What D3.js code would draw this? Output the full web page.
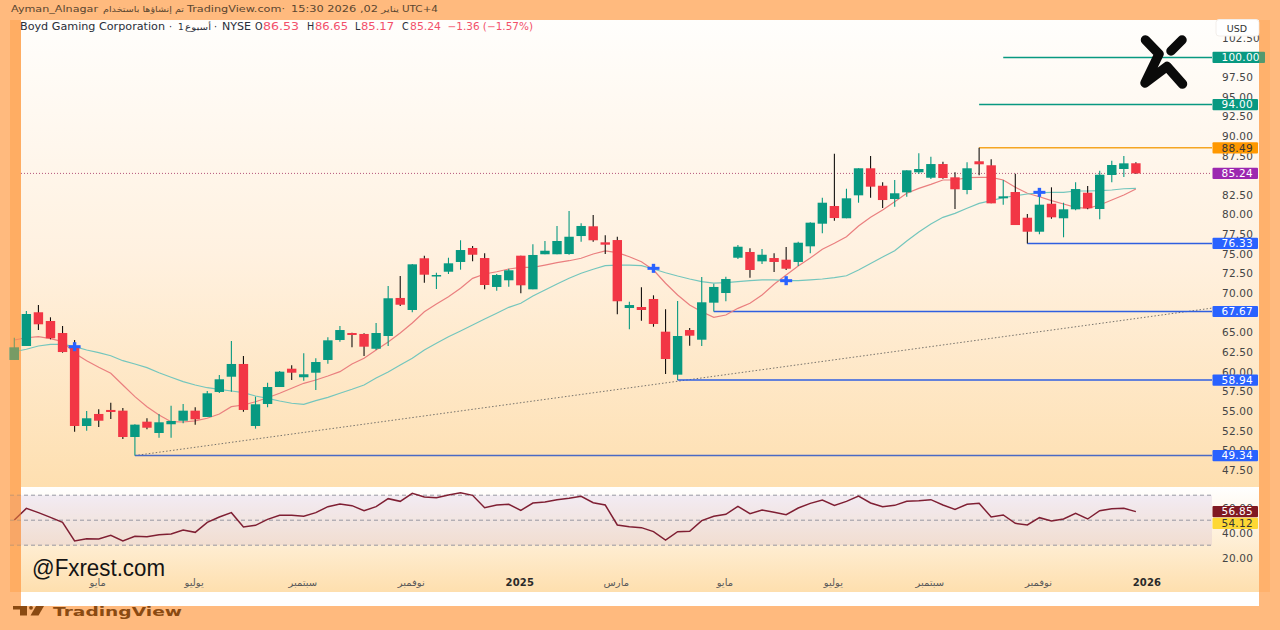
<!DOCTYPE html>
<html>
<head>
<meta charset="utf-8">
<script src="https://cdn.jsdelivr.net/npm/d3@7"></script>
<style>
html, body { margin: 0; padding: 0; background: #ffba7e; }
svg { display: block; }
text { font-family: "DejaVu Sans", sans-serif; }
</style>
</head>
<body>
<div id="chart"></div>
<script>
// weekly candles, oldest first
var open = [61.50,63.28,67.57,66.46,64.93,63.19,53.10,54.63,55.14,55.05,51.70,53.65,52.21,53.32,53.77,55.05,54.25,57.43,59.37,60.99,53.10,55.90,58.06,60.39,59.30,59.88,61.50,64.04,64.93,64.81,62.93,64.55,69.39,67.86,74.44,72.22,72.73,73.97,75.75,74.47,70.79,71.64,74.77,70.49,74.95,74.95,74.98,77.27,78.51,76.47,76.76,68.11,68.24,69.26,65.10,59.63,65.31,64.08,68.79,70.02,74.51,75.24,74.05,74.47,74.26,73.97,75.96,78.84,81.09,79.53,82.45,85.89,83.67,81.98,82.83,85.38,84.69,86.43,84.74,83.13,86.78,86.27,82.07,82.87,79.60,77.82,81.38,79.53,80.67,82.78,80.71,85.04,85.80,86.53];
var high = [64.33,67.73,68.50,66.93,65.82,64.04,55.01,55.23,56.06,55.39,53.32,54.08,54.63,55.68,55.90,55.48,57.55,59.59,63.91,62.01,56.83,58.61,60.10,60.82,62.35,61.71,64.39,65.82,64.97,64.89,66.20,70.91,72.18,73.71,74.77,72.60,74.51,76.73,76.00,75.07,72.44,73.11,74.77,76.22,76.64,78.55,80.45,78.89,79.95,77.36,77.18,68.91,70.75,69.73,67.95,69.00,65.57,72.06,71.21,72.10,76.13,75.71,75.62,75.07,75.87,76.55,79.02,82.15,87.74,83.29,85.89,87.45,84.11,84.40,85.63,87.80,87.36,86.73,85.38,86.65,88.49,87.03,84.40,85.20,80.07,82.78,83.47,81.51,84.11,83.64,85.58,86.85,87.45,86.65];
var low = [61.50,63.28,65.31,64.13,62.43,52.38,52.50,52.97,53.99,51.45,49.34,52.68,51.61,51.61,53.44,53.27,54.25,57.30,57.46,54.92,52.76,55.48,58.06,58.95,58.86,57.68,61.03,63.83,63.11,62.01,62.77,63.28,68.37,67.57,71.33,70.53,72.44,72.99,74.05,70.49,70.31,70.82,69.98,70.49,74.95,74.95,74.89,76.55,76.55,74.98,67.31,65.40,66.50,65.73,59.72,58.94,63.32,63.28,67.67,68.97,74.35,71.97,73.71,72.69,72.95,73.46,75.07,77.62,79.22,79.53,81.51,82.15,80.84,81.00,82.27,85.16,84.53,84.56,80.71,82.58,85.00,81.43,81.26,78.67,76.33,77.49,79.47,77.11,80.54,80.67,79.40,84.11,84.78,85.17];
var close = [63.11,67.35,66.04,64.26,62.51,53.10,54.08,53.77,54.88,51.70,53.27,52.88,53.57,53.74,55.05,53.95,57.26,59.04,60.99,55.14,55.86,58.06,60.01,59.88,59.68,61.24,64.00,65.31,64.68,63.19,64.93,69.35,68.53,73.67,72.35,72.31,73.80,75.49,74.89,71.04,72.31,72.91,71.00,74.86,75.40,76.64,77.18,78.55,76.73,76.17,68.97,68.49,67.86,66.08,61.62,64.55,64.59,68.84,70.79,71.80,75.91,72.95,74.89,73.97,73.11,76.42,78.97,81.51,79.56,82.07,85.89,83.55,81.85,82.71,85.63,85.80,86.43,84.65,83.22,85.89,86.40,81.43,82.32,78.67,77.82,81.26,79.65,80.67,83.25,80.80,85.07,86.31,86.52,85.24];

// the two moving averages on the price pane
var fastMa = [64.04,64.33,64.46,64.21,63.83,62.35,61.41,60.57,59.80,58.32,56.83,55.56,54.50,53.65,53.61,53.74,54.08,54.63,55.56,55.77,56.19,56.70,57.26,57.90,58.53,58.95,59.46,60.01,60.99,61.71,62.77,63.79,64.93,66.20,67.64,68.62,69.55,70.62,71.89,72.44,72.73,73.08,73.29,73.29,73.58,73.88,74.13,74.44,74.98,75.37,75.15,74.64,74.00,72.95,71.26,69.77,68.49,67.64,66.93,67.22,68.07,68.71,69.77,71.13,72.31,73.46,74.47,75.58,76.35,77.18,78.55,79.65,80.58,81.64,82.71,83.34,83.85,84.40,84.40,84.69,84.74,84.74,84.40,83.47,82.71,82.27,81.77,81.35,80.92,80.80,81.22,81.85,82.49,83.25];
var slowMa = [62.55,62.86,63.28,63.49,63.49,63.19,62.77,62.43,62.04,61.41,60.99,60.52,59.88,59.30,58.74,58.32,57.97,57.77,57.55,57.34,56.92,56.62,56.28,55.99,55.86,56.32,56.75,57.26,57.77,58.32,59.21,59.97,60.86,61.71,62.77,63.62,64.46,65.19,65.95,66.71,67.44,68.20,68.71,69.64,70.40,71.17,71.89,72.53,73.04,73.50,73.58,73.58,73.50,73.08,72.60,72.18,71.80,71.46,71.29,71.33,71.46,71.59,71.68,71.68,71.59,71.59,71.68,71.80,71.97,72.22,72.95,73.78,74.60,75.40,76.64,77.78,78.80,79.65,80.16,80.80,81.43,81.77,82.15,82.40,82.62,82.78,82.83,82.83,83.00,83.00,83.04,83.13,83.29,83.34];

// RSI pane
var rsi = [50.16,59.49,56.03,52.29,48.29,33.36,35.23,34.96,37.89,33.36,37.09,36.83,38.43,38.96,42.16,40.29,48.29,52.56,56.03,44.56,45.89,50.69,53.89,53.89,53.09,56.03,60.83,62.96,61.63,57.63,60.83,67.23,65.09,71.49,68.56,68.03,70.16,72.03,69.89,60.03,62.16,62.69,57.89,63.76,64.56,66.43,67.49,69.09,64.03,62.16,46.16,44.83,44.03,40.83,34.16,40.83,41.09,49.63,53.09,54.69,61.09,55.23,58.16,56.29,54.43,59.76,63.49,66.16,61.89,65.09,69.36,63.76,60.83,61.89,65.09,65.63,66.43,62.16,58.69,62.69,63.49,52.56,54.16,47.49,46.16,52.03,49.36,50.96,55.49,50.96,57.63,59.23,59.49,56.85];
var rsiLevels = [70, 50, 30];
var rsiTicks = [60, 40, 20];

// axes
var priceTicks = [47.5,50,52.5,55,57.5,60,62.5,65,67.5,70,72.5,75,77.5,80,82.5,85,87.5,90,92.5,95,97.5,100,102.5];
var timeTickIdx = [7,15,24,33,42,50,59,68,76,85,94];
var timeLabels = ["مايو","يوليو","سبتمبر","نوفمبر","2025","مارس","مايو","يوليو","سبتمبر","نوفمبر","2026"];
var boldLabels = ["2025","2026"];

// drawn levels: price, candle they start at
var levelPrice = [100, 94, 88.49, 76.33, 67.67, 58.94, 49.34];
var levelStart = [82, 80, 80, 84, 58, 55, 10];
var levelColor = ["#089981","#089981","#f5a623","#2f5fe0","#2f5fe0","#2f5fe0","#4a6ac4"];
var tagColor = ["#089981","#089981","#ff9800","#2962ff","#2962ff","#2962ff","#2962ff"];
var tagText = ["#fff","#fff","#333","#fff","#fff","#fff","#fff"];
var lastPrice = 85.24;
var rsiLast = 56.85, rsiMaLast = 54.12;
var trendFrom = [10, 49.34], trendToPrice = 68.1;

// cross markers: candle index, price
var crossIdx = [5, 53, 64, 85];
var crossPrice = [63.19, 73.16, 71.59, 82.83];

var width = 1280, height = 630;
var axisX = 1212;

var x = d3.scaleLinear().domain([0, 93]).range([14.3, 1135.9]);
var y = d3.scaleLinear().domain([47.5, 100]).range([470, 57.4]);
var yRsi = d3.scaleLinear().domain([20, 60]).range([557.7, 507.7]);

var svg = d3.select('#chart').append('svg').attr('width', width).attr('height', height);
var defs = svg.append('defs');

function gradient(id, stops) {
    var g = defs.append('linearGradient').attr('id', id).attr('x1', 0).attr('x2', 0).attr('y1', 0).attr('y2', 1);
    stops.forEach(function (s) {
        g.append('stop').attr('offset', s[0]).attr('stop-color', s[1]);
    });
}
gradient('mainBg', [[0, '#fffefc'], [0.5, '#fff1e0'], [1, '#fedfb0']]);
gradient('rsiBg', [[0, '#ffffff'], [1, '#fedfae']]);

svg.append('rect').attr('width', width).attr('height', height).attr('fill', '#ffba7e');
svg.append('rect').attr('x', 21).attr('y', 20).attr('width', 1238).attr('height', 467).attr('fill', 'url(#mainBg)');
svg.append('rect').attr('x', 21).attr('y', 487).attr('width', 1238).attr('height', 105).attr('fill', 'url(#rsiBg)');
svg.append('rect').attr('x', 21).attr('y', 592).attr('width', 1238).attr('height', 14).attr('fill', '#ffffff');

// rsi band and dashes
svg.append('rect').attr('x', 10).attr('width', axisX - 10)
    .attr('y', yRsi(rsiLevels[0])).attr('height', yRsi(rsiLevels[2]) - yRsi(rsiLevels[0]))
    .attr('fill', '#7e57c2').attr('opacity', 0.1);
svg.selectAll('line.rsilevel').data(rsiLevels).enter().append('line').attr('class', 'rsilevel')
    .attr('x1', 10).attr('x2', axisX)
    .attr('y1', function (d) { return yRsi(d); }).attr('y2', function (d) { return yRsi(d); })
    .attr('stroke', '#8d8f9a').attr('stroke-dasharray', '4 3').attr('stroke-width', 0.9);

var rsiLine = d3.line().x(function (d, i) { return x(i); }).y(function (d) { return yRsi(d); });
svg.append('path').datum(rsi).attr('d', rsiLine).attr('fill', 'none').attr('stroke', '#7f1f33').attr('stroke-width', 1.5);

// last price dotted line
svg.append('line').attr('x1', 21).attr('x2', axisX).attr('y1', y(lastPrice)).attr('y2', y(lastPrice))
    .attr('stroke', '#b5547a').attr('stroke-dasharray', '1 2').attr('stroke-width', 1);

// trend line
svg.append('line').attr('x1', x(trendFrom[0])).attr('y1', y(trendFrom[1]))
    .attr('x2', axisX).attr('y2', y(trendToPrice))
    .attr('stroke', '#77736c').attr('stroke-dasharray', '1.5 2').attr('stroke-width', 1);

// level lines
svg.selectAll('line.level').data(levelPrice).enter().append('line').attr('class', 'level')
    .attr('x1', function (d, i) { return x(levelStart[i]); }).attr('x2', axisX)
    .attr('y1', function (d) { return y(d); }).attr('y2', function (d) { return y(d); })
    .attr('stroke', function (d, i) { return levelColor[i]; }).attr('stroke-width', 1.5);

// moving averages under the candles
var maLine = d3.line().x(function (d, i) { return x(i); }).y(function (d) { return y(d); });
svg.append('path').datum(fastMa).attr('d', maLine).attr('fill', 'none').attr('stroke', '#ea7f7f').attr('stroke-width', 1.2);
svg.append('path').datum(slowMa).attr('d', maLine).attr('fill', 'none').attr('stroke', '#74c6bd').attr('stroke-width', 1.2);

// candles
var candleW = 9.4;
var idx = d3.range(open.length);
var candles = svg.selectAll('g.candle').data(idx).enter().append('g').attr('class', 'candle');
function isUp(i) { return close[i] >= open[i]; }
candles.append('line')
    .attr('x1', function (i) { return x(i); }).attr('x2', function (i) { return x(i); })
    .attr('y1', function (i) { return y(high[i]); }).attr('y2', function (i) { return y(low[i]); })
    .attr('stroke', function (i) { return isUp(i) ? '#089981' : '#14110f'; }).attr('stroke-width', 1.1);
candles.append('rect')
    .attr('x', function (i) { return x(i) - candleW / 2; }).attr('width', candleW)
    .attr('y', function (i) { return y(Math.max(open[i], close[i])); })
    .attr('height', function (i) { return Math.max(1.5, Math.abs(y(open[i]) - y(close[i]))); })
    .attr('fill', function (i) { return isUp(i) ? '#089981' : '#f23645'; });

// crosses
var crosses = svg.selectAll('g.cross').data(crossIdx).enter().append('g').attr('class', 'cross')
    .attr('transform', function (d, i) { return 'translate(' + x(d) + ',' + y(crossPrice[i]) + ')'; });
crosses.append('rect').attr('x', -6).attr('y', -1.5).attr('width', 12).attr('height', 3).attr('fill', '#2962ff');
crosses.append('rect').attr('x', -1.7).attr('y', -4.5).attr('width', 3.4).attr('height', 9).attr('fill', '#2962ff');

// price axis
var priceAxis = svg.append('g').attr('transform', 'translate(1222,0)')
    .call(d3.axisRight(y).tickValues(priceTicks).tickFormat(d3.format('.2f')).tickSize(0).tickPadding(0));
var rsiAxis = svg.append('g').attr('transform', 'translate(1222,0)')
    .call(d3.axisRight(yRsi).tickValues(rsiTicks).tickFormat(d3.format('.2f')).tickSize(0).tickPadding(0));
var timeAxis = svg.append('g').attr('transform', 'translate(-1.5,579)')
    .call(d3.axisBottom(x).tickValues(timeTickIdx).tickFormat(function (d, i) { return timeLabels[i]; }).tickSize(0).tickPadding(0));
[priceAxis, rsiAxis, timeAxis].forEach(function (a) {
    a.select('.domain').remove();
    a.selectAll('text').attr('fill', '#454545').style('font-family', '"DejaVu Sans", sans-serif').style('font-size', '10.5px').style('letter-spacing', '0.2px');
});
timeAxis.selectAll('text').style('font-size', '10px')
    .style('font-weight', function (d, i) { return boldLabels.indexOf(timeLabels[i]) >= 0 ? 'bold' : 'normal'; })
    .attr('fill', function (d, i) { return boldLabels.indexOf(timeLabels[i]) >= 0 ? '#2a2a2a' : '#5a5a5a'; });

// USD box covers the top tick
svg.append('rect').attr('x', 1216).attr('y', 19.5).attr('width', 43).attr('height', 16.5).attr('rx', 3)
    .attr('fill', '#ffffff').attr('stroke', '#f3eeea');
svg.append('text').attr('x', 1237).attr('y', 31.5).attr('text-anchor', 'middle').attr('font-size', 9.5).attr('fill', '#333').text('USD');

// value tags; shift moves a tag off its neighbour like the platform does
function tag(val, scale, fill, color, right, shift) {
    var yy = scale(val) + (shift || 0);
    svg.append('rect').attr('x', 1212.5).attr('y', yy - 5.6).attr('width', (right || 1258) - 1212.5).attr('height', 11.2)
        .attr('rx', 1).attr('fill', fill);
    svg.append('text').attr('x', 1221.5).attr('y', yy + 3.8).attr('font-size', 10.5).attr('fill', color)
        .style('letter-spacing', '0.25px').text(d3.format('.2f')(val));
}
levelPrice.forEach(function (p, i) {
    tag(p, y, tagColor[i], tagText[i], i === 0 ? 1265 : 1258);
});
tag(lastPrice, y, '#9c27b0', '#fff');
tag(rsiLast, yRsi, '#801922', '#fff');
tag(rsiMaLast, yRsi, '#fdd835', '#333', 1258, 8.3);

// side strips sit over the chart
svg.append('rect').attr('x', 10).attr('y', 20).attr('width', 11).attr('height', 572).attr('fill', '#ff9d42').attr('opacity', 0.45);
svg.append('rect').attr('x', 1259).attr('y', 20).attr('width', 11).attr('height', 572).attr('fill', '#ff9d42').attr('opacity', 0.3);

// top info lines
function label(txt, px, py, size, fill, extra) {
    var t = svg.append('text').attr('x', px).attr('y', py).attr('font-size', size).attr('fill', fill).text(txt);
    if (extra) t.attr('textLength', extra).attr('lengthAdjust', 'spacingAndGlyphs');
    return t;
}
var topC = '#5a4630';
label('Ayman_Alnagar', 11, 12, 9.2, topC, 87);
label('تم إنشاؤها باستخدام', 103, 12, 8, topC, 81);
label('TradingView.com·', 187, 12, 9.2, topC, 98);
label('15:30 2026 ,02', 291, 12, 9.2, topC, 87);
label('يناير', 381, 12, 8, topC, 18);
label('UTC+4', 402, 12, 9.2, topC, 36);

var headC = '#2a2e39', upC = '#f2506a';
label('Boyd Gaming Corporation', 20, 30, 9.6, headC, 145);
label('·', 169, 30, 9.6, headC);
label('1', 178, 30, 9, headC);
label('أسبوع', 185, 30, 8.5, headC, 26);
label('·', 214, 30, 9.6, headC);
label('NYSE', 222, 30, 9.6, headC, 29);
label('O', 255, 30, 9.6, headC);
label('86.53', 263, 30, 9.6, upC, 36);
label('H', 307, 30, 9.6, headC);
label('86.65', 315, 30, 9.6, upC, 33);
label('L', 355, 30, 9.6, headC);
label('85.17', 361, 30, 9.6, upC, 33);
label('C', 402, 30, 9.6, headC);
label('85.24', 410, 30, 9.6, upC, 31);
label('−1.36 (−1.57%)', 447.5, 30, 9.6, upC, 85.5);

// x logo, top right
svg.append('path').attr('d', 'M1145.5,40 L1159,54 L1145,83 L1167,66.5 L1182.5,84')
    .attr('fill', 'none').attr('stroke', '#0a0a0a').attr('stroke-width', 9.5).attr('stroke-linecap', 'round').attr('stroke-linejoin', 'round');
svg.append('path').attr('d', 'M1182,40 L1171,51')
    .attr('fill', 'none').attr('stroke', '#0a0a0a').attr('stroke-width', 9.5).attr('stroke-linecap', 'round');

// watermark
svg.append('text').attr('x', 32).attr('y', 576).attr('font-size', 24)
    .style('font-family', '"Liberation Sans Narrow", "Liberation Sans", sans-serif')
    .attr('fill', '#141414').attr('textLength', 133).attr('lengthAdjust', 'spacingAndGlyphs').text('@Fxrest.com');

// tradingview mark at the bottom
var tvC = '#8a4a12';
svg.append('path').attr('fill', tvC).attr('d', 'M13,606 H27 V615.5 H20 V609.5 H13 Z');
svg.append('circle').attr('cx', 31).attr('cy', 607.8).attr('r', 1.9).attr('fill', tvC);
svg.append('path').attr('fill', tvC).attr('d', 'M36,606 H44 L38.5,615.5 H30.5 Z');
svg.append('text').attr('x', 53).attr('y', 615.5).attr('font-size', 13).attr('font-weight', 'bold').attr('fill', tvC)
    .attr('textLength', 129).attr('lengthAdjust', 'spacingAndGlyphs').text('TradingView');
</script>
</body>
</html>
